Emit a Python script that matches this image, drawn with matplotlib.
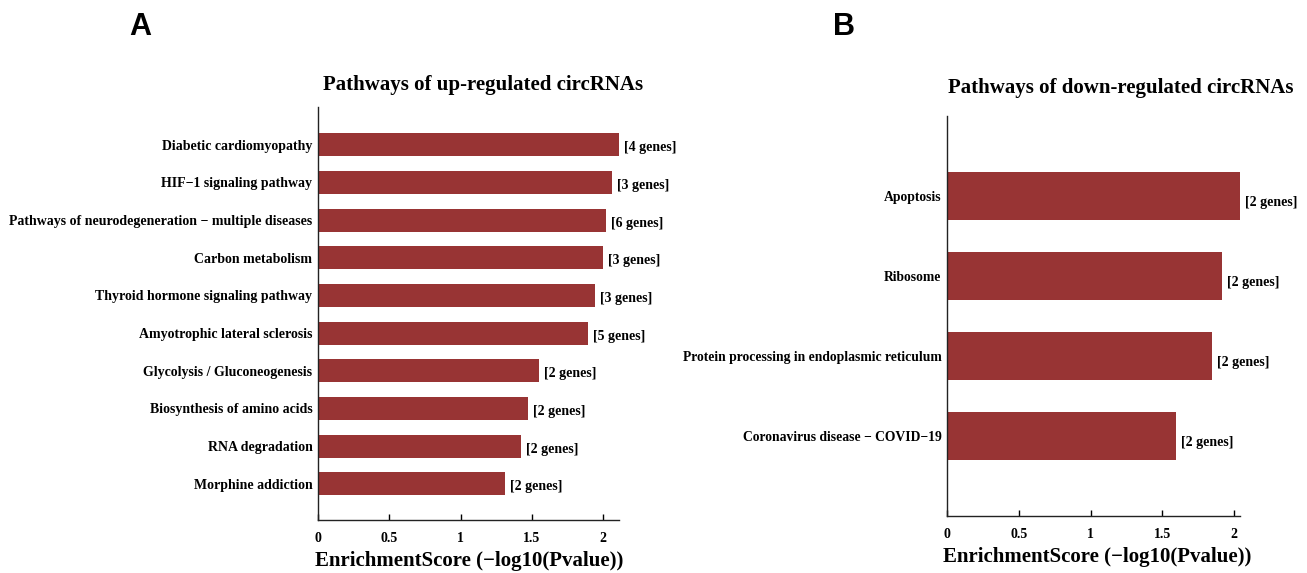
import matplotlib
matplotlib.use("Agg")
import matplotlib.pyplot as plt

# ---- data ----
up_pathways = ["Diabetic cardiomyopathy", "HIF\u22121 signaling pathway",
               "Pathways of neurodegeneration \u2212 multiple diseases", "Carbon metabolism",
               "Thyroid hormone signaling pathway", "Amyotrophic lateral sclerosis",
               "Glycolysis / Gluconeogenesis", "Biosynthesis of amino acids",
               "RNA degradation", "Morphine addiction"]
up_scores = [2.11, 2.06, 2.02, 2.00, 1.94, 1.895, 1.55, 1.47, 1.42, 1.31]
up_genes = ["[4 genes]", "[3 genes]", "[6 genes]", "[3 genes]", "[3 genes]",
            "[5 genes]", "[2 genes]", "[2 genes]", "[2 genes]", "[2 genes]"]

down_pathways = ["Apoptosis", "Ribosome", "Protein processing in endoplasmic reticulum",
                 "Coronavirus disease \u2212 COVID\u221219"]
down_scores = [2.04, 1.917, 1.847, 1.597]
down_genes = ["[2 genes]", "[2 genes]", "[2 genes]", "[2 genes]"]

x_ticks = [0, 0.5, 1, 1.5, 2]
x_ticklabels = ["0", "0.5", "1", "1.5", "2"]

BAR = "#983434"
SERIF = ["Liberation Serif", "DejaVu Serif"]

W, H = 1307, 573
fig = plt.figure(figsize=(W / 100, H / 100), dpi=100)


def px_axes(l, r, b, t):
    return fig.add_axes([l / W, 1 - b / H, (r - l) / W, (b - t) / H])


def draw(ax, names, vals, genes, ylim_lo, ylim_hi, ysize):
    n = len(names)
    pos = list(range(n - 1, -1, -1))
    ax.barh(pos, vals, height=0.61, color=BAR, edgecolor="none")
    ax.set_ylim(ylim_lo, ylim_hi)
    ax.set_xlim(0, max(vals))
    ax.set_yticks(pos)
    ax.set_yticklabels(names, family=SERIF, fontweight="bold", fontsize=ysize)
    ax.tick_params(axis="y", length=0, pad=4)
    ax.set_xticks(x_ticks)
    ax.set_xticklabels(x_ticklabels, family=SERIF, fontweight="bold", fontsize=10)
    ax.tick_params(axis="x", direction="in", length=4, width=1, pad=9)
    for s in ["top", "right"]:
        ax.spines[s].set_visible(False)
    for s in ["left", "bottom"]:
        ax.spines[s].set_linewidth(1.0)
        ax.spines[s].set_color("#222222")
    for p, v, g in zip(pos, vals, genes):
        ax.text(v + 0.035, p - 0.08, g, family=SERIF, fontweight="bold",
                fontsize=10, va="center", ha="left", clip_on=False)


axA = px_axes(318, 619, 520, 107)
draw(axA, up_pathways, up_scores, up_genes, -0.96, 10.0, 10)
axB = px_axes(947, 1240, 516, 116)
draw(axB, down_pathways, down_scores, down_genes, -1.0, 4.0, 9.8)

fig.text(483 / W, 1 - 85 / H, "Pathways of up-regulated circRNAs", family=SERIF,
         fontweight="bold", fontsize=15, ha="center", va="center")
fig.text(1121 / W, 1 - 88 / H, "Pathways of down-regulated circRNAs", family=SERIF,
         fontweight="bold", fontsize=15, ha="center", va="center")
fig.text(469 / W, 1 - 561 / H, "EnrichmentScore (\u2212log10(Pvalue))", family=SERIF,
         fontweight="bold", fontsize=15, ha="center", va="center")
fig.text(1097 / W, 1 - 557 / H, "EnrichmentScore (\u2212log10(Pvalue))", family=SERIF,
         fontweight="bold", fontsize=15, ha="center", va="center")

fig.text(140 / W, 1 - 27 / H, "A", family=["Liberation Sans", "DejaVu Sans"],
         fontweight="bold", fontsize=22, ha="center", va="center")
fig.text(844 / W, 1 - 27 / H, "B", family=["Liberation Sans", "DejaVu Sans"],
         fontweight="bold", fontsize=22, ha="center", va="center")

fig.savefig("out.png", dpi=100, facecolor="white")
